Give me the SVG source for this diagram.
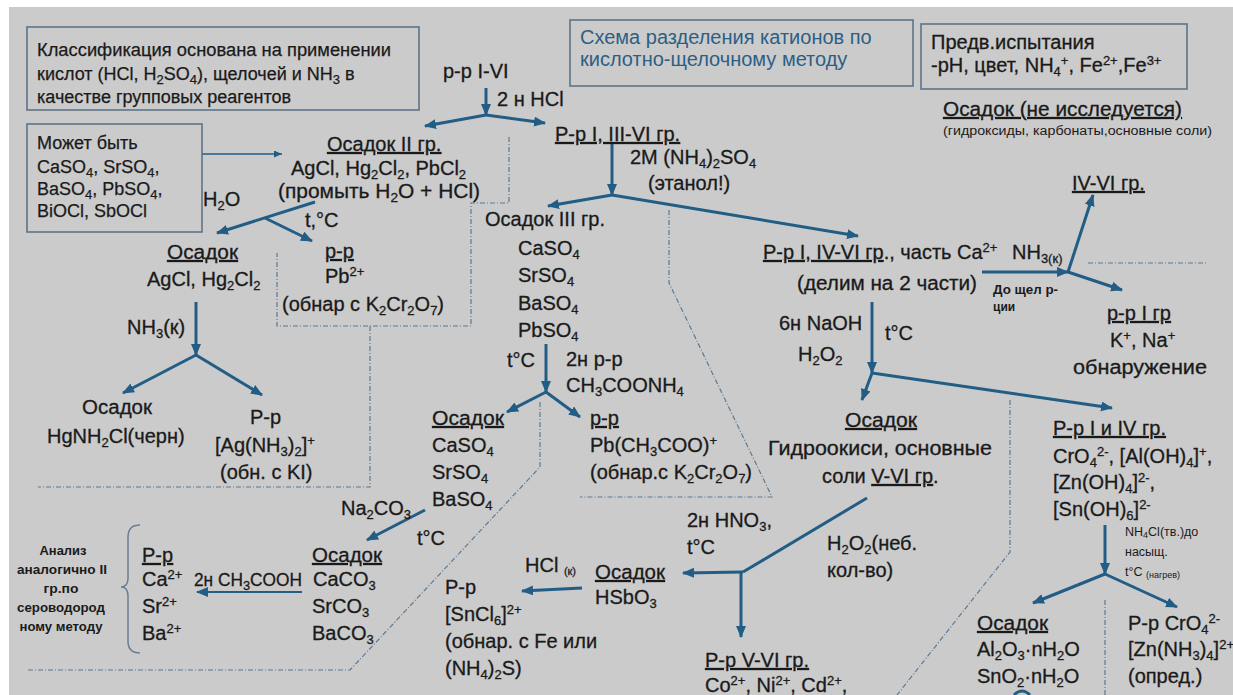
<svg xmlns="http://www.w3.org/2000/svg" width="1233" height="695" viewBox="0 0 1233 695">
<defs>
<style>
text{font-family:"Liberation Sans",Arial,sans-serif;fill:#1a1a1a}
.t{font-size:20px;stroke:#1a1a1a;stroke-width:0.3}
.bx{font-size:18px;stroke:#1a1a1a;stroke-width:0.25}
.hd{font-size:20px;stroke:#1a1a1a;stroke-width:0.3}
.ttl{font-size:20px;fill:#2c5f86}
.sm{font-size:12.5px}
.smb{font-size:12px;font-weight:bold}
.u{text-decoration:underline}
.sb{font-size:13px;baseline-shift:-4px}
.sp{font-size:13px;baseline-shift:7px}
.box{fill:none;stroke:#5e7488;stroke-width:1.6}
.ar{fill:none;stroke:#225d86;stroke-width:3;marker-end:url(#ah)}
.ln{fill:none;stroke:#225d86;stroke-width:3}
.thin{fill:none;stroke:#225d86;stroke-width:1.4;marker-end:url(#ahs)}
.dd{fill:none;stroke:#5d7a94;stroke-width:1.2;stroke-dasharray:5 2 1 2}
</style>
<marker id="ah" markerUnits="userSpaceOnUse" markerWidth="14" markerHeight="12" refX="11" refY="5" orient="auto"><path d="M0,0 L12,5 L0,10 z" fill="#225d86"/></marker>
<marker id="ahs" markerUnits="userSpaceOnUse" markerWidth="10" markerHeight="8" refX="8" refY="3.5" orient="auto"><path d="M0,0 L8,3.5 L0,7 z" fill="#225d86"/></marker>
</defs>
<rect x="9" y="7" width="1224" height="688" fill="#cbcbcb"/>

<g id="connectors">
<path class="dd" d="M509 137 V203 H471 V326 H277 V253"/>
<path class="dd" d="M370 326 V487 H38"/>
<path class="dd" d="M669 210 V283 L772 497 H580"/>
<path class="dd" d="M540 402 V467 L350 670 H27"/>
<path class="dd" d="M1088 263 H1208"/>
<path class="dd" d="M1010 400 V552 L897 695"/>
<path class="dd" d="M1105 600 V695"/>

<path class="thin" d="M202 154 H282"/>
<path class="ar" d="M486 88 V115"/>
<path class="ar" d="M486 115 L425 126"/>
<path class="ar" d="M486 115 L545 123"/>
<path class="ar" d="M315 202 L217 233"/>
<path class="ar" d="M265 218 L312 241"/>
<path class="ar" d="M196 302 V355"/>
<path class="ar" d="M196 355 L123 393"/>
<path class="ar" d="M196 355 L262 395"/>
<path class="ar" d="M612 144 V195"/>
<path class="ar" d="M612 195 L548 206"/>
<path class="ar" d="M612 195 L858 236"/>
<path class="ar" d="M546 344 V392"/>
<path class="ar" d="M546 392 L507 412"/>
<path class="ar" d="M546 392 L580 417"/>
<path class="ar" d="M425 510 L367 540"/>
<path class="ar" d="M302 592 H197" style="stroke-width:2.2"/>
<path class="ar" d="M982 272 H1068"/>
<path class="ar" d="M1068 272 L1093 195"/>
<path class="ar" d="M1068 272 L1122 290"/>
<path class="ar" d="M872 302 V373"/>
<path class="ar" d="M872 373 L862 400"/>
<path class="ar" d="M872 373 L1112 408"/>
<path class="ln" d="M867 498 L743 572"/>
<path class="ar" d="M743 572 L683 573"/>
<path class="ar" d="M741 572 V637"/>
<path class="ar" d="M582 588 L522 591"/>
<path class="ar" d="M1105 525 V574"/>
<path class="ar" d="M1105 574 L1033 603"/>
<path class="ar" d="M1105 574 L1177 607"/>
<path class="ln" d="M1014 695 Q1022 687 1030 695"/>
</g>

<g id="n-classif">
<rect class="box" x="27" y="27" width="392" height="83"/>
<text class="bx" x="37" y="56" textLength="354" lengthAdjust="spacingAndGlyphs">Классификация  основана на применении</text>
<text class="bx" x="37" y="80">кислот (HCl, H<tspan class="sb">2</tspan>SO<tspan class="sb">4</tspan>), щелочей и NH<tspan class="sb">3</tspan> в</text>
<text class="bx" x="37" y="103">качестве групповых реагентов</text>
</g>

<g id="n-title">
<rect class="box" x="570" y="20" width="343" height="66"/>
<text class="ttl" x="580" y="44">Схема разделения катионов по</text>
<text class="ttl" x="580" y="66">кислотно-щелочному методу</text>
</g>

<g id="n-predv">
<rect class="box" x="921" y="24" width="266" height="65"/>
<text class="hd" x="931" y="49">Предв.испытания</text>
<text class="hd" x="931" y="72">-pH, цвет, NH<tspan class="sb">4</tspan><tspan class="sp">+</tspan>, Fe<tspan class="sp">2+</tspan>,Fe<tspan class="sp">3+</tspan></text>
</g>

<g id="n-nonres">
<text class="hd u" x="943" y="116" textLength="239" lengthAdjust="spacingAndGlyphs">Осадок (не исследуется)</text>
<text class="sm" x="943" y="135" textLength="269" lengthAdjust="spacingAndGlyphs">(гидроксиды, карбонаты,основные соли)</text>
</g>

<g id="n-ivvi">
<text class="t u" x="1072" y="190">IV-VI гр.</text>
</g>

<g id="n-start">
<text class="t" x="443" y="78">р-р I-VI</text>
<text class="t" x="497" y="106">2 н HCl</text>
</g>

<g id="n-may">
<rect class="box" x="27" y="124" width="175" height="108"/>
<text class="bx" x="37" y="149">Может быть</text>
<text class="bx" x="37" y="173">CaSO<tspan class="sb">4</tspan>, SrSO<tspan class="sb">4</tspan>,</text>
<text class="bx" x="37" y="195">BaSO<tspan class="sb">4</tspan>, PbSO<tspan class="sb">4</tspan>,</text>
<text class="bx" x="37" y="217">BiOCl, SbOCl</text>
</g>

<g id="n-osII">
<text class="t u" x="327" y="151">Осадок II гр.</text>
<text class="t" x="291" y="175">AgCl, Hg<tspan class="sb">2</tspan>Cl<tspan class="sb">2</tspan>, PbCl<tspan class="sb">2</tspan></text>
<text class="t" x="278" y="198" textLength="202" lengthAdjust="spacingAndGlyphs">(промыть H<tspan class="sb">2</tspan>O + HCl)</text>
<text class="t" x="203" y="206">H<tspan class="sb">2</tspan>O</text>
<text class="t" x="305" y="227">t,°C</text>
</g>

<g id="n-agcl">
<text class="t u" x="167" y="259" textLength="71" lengthAdjust="spacingAndGlyphs">Осадок</text>
<text class="t" x="147" y="286">AgCl, Hg<tspan class="sb">2</tspan>Cl<tspan class="sb">2</tspan></text>
<text class="t" x="127" y="334">NH<tspan class="sb">3</tspan>(к)</text>
</g>

<g id="n-pb">
<text class="t u" x="325" y="258">р-р</text>
<text class="t" x="325" y="283">Pb<tspan class="sp">2+</tspan></text>
<text class="t" x="282" y="311">(обнар с K<tspan class="sb">2</tspan>Cr<tspan class="sb">2</tspan>O<tspan class="sb">7</tspan>)</text>
</g>

<g id="n-hg">
<text class="t" x="82" y="414" textLength="70" lengthAdjust="spacingAndGlyphs">Осадок</text>
<text class="t" x="47" y="443">HgNH<tspan class="sb">2</tspan>Cl(черн)</text>
</g>

<g id="n-ag">
<text class="t" x="250" y="424">Р-р</text>
<text class="t" x="215" y="452">[Ag(NH<tspan class="sb">3</tspan>)<tspan class="sb">2</tspan>]<tspan class="sp">+</tspan></text>
<text class="t" x="220" y="479">(обн. с KI)</text>
</g>

<g id="n-rr1">
<text class="t u" x="555" y="141">Р-р I, III-VI гр.</text>
<text class="t" x="630" y="164">2M (NH<tspan class="sb">4</tspan>)<tspan class="sb">2</tspan>SO<tspan class="sb">4</tspan></text>
<text class="t" x="648" y="190">(этанол!)</text>
</g>

<g id="n-osIII">
<text class="t" x="485" y="226">Осадок III гр.</text>
<text class="t" x="518" y="255">CaSO<tspan class="sb">4</tspan></text>
<text class="t" x="518" y="282">SrSO<tspan class="sb">4</tspan></text>
<text class="t" x="518" y="310">BaSO<tspan class="sb">4</tspan></text>
<text class="t" x="518" y="337">PbSO<tspan class="sb">4</tspan></text>
<text class="t" x="507" y="367">t°C</text>
<text class="t" x="566" y="366">2н р-р</text>
<text class="t" x="566" y="392">CH<tspan class="sb">3</tspan>COONH<tspan class="sb">4</tspan></text>
</g>

<g id="n-sulf">
<text class="t u" x="432" y="425" textLength="72" lengthAdjust="spacingAndGlyphs">Осадок</text>
<text class="t" x="432" y="452">CaSO<tspan class="sb">4</tspan></text>
<text class="t" x="432" y="479">SrSO<tspan class="sb">4</tspan></text>
<text class="t" x="432" y="506">BaSO<tspan class="sb">4</tspan></text>
</g>

<g id="n-pbac">
<text class="t u" x="590" y="425">р-р</text>
<text class="t" x="590" y="452">Pb(CH<tspan class="sb">3</tspan>COO)<tspan class="sp">+</tspan></text>
<text class="t" x="590" y="479">(обнар.с K<tspan class="sb">2</tspan>Cr<tspan class="sb">2</tspan>O<tspan class="sb">7</tspan>)</text>
</g>

<g id="n-carb">
<text class="t" x="341" y="515">Na<tspan class="sb">2</tspan>CO<tspan class="sb">3</tspan></text>
<text class="t" x="417" y="545">t°C</text>
<text class="t u" x="312" y="562" textLength="70" lengthAdjust="spacingAndGlyphs">Осадок</text>
<text class="t" x="313" y="586">CaCO<tspan class="sb">3</tspan></text>
<text class="t" x="312" y="613">SrCO<tspan class="sb">3</tspan></text>
<text class="t" x="312" y="640">BaCO<tspan class="sb">3</tspan></text>
</g>

<g id="n-ions">
<text class="t u" x="142" y="562">Р-р</text>
<text class="t" x="142" y="586">Ca<tspan class="sp">2+</tspan></text>
<text class="t" x="194" y="586" style="font-size:17.5px" textLength="108" lengthAdjust="spacingAndGlyphs">2н CH<tspan class="sb">3</tspan>COOH</text>
<text class="t" x="142" y="613">Sr<tspan class="sp">2+</tspan></text>
<text class="t" x="142" y="640">Ba<tspan class="sp">2+</tspan></text>
<path d="M140 525 Q128 525 128 537 V578 Q128 587 121 587 Q128 587 128 596 V641 Q128 653 140 653" fill="none" stroke="#6a7f92" stroke-width="1.5"/>
</g>

<g id="n-note">
<text class="smb" x="63" y="555" text-anchor="middle" textLength="47" lengthAdjust="spacingAndGlyphs">Анализ</text>
<text class="smb" x="62" y="574" text-anchor="middle" textLength="90" lengthAdjust="spacingAndGlyphs">аналогично II</text>
<text class="smb" x="61" y="593" text-anchor="middle" textLength="35" lengthAdjust="spacingAndGlyphs">гр.по</text>
<text class="smb" x="61" y="612" text-anchor="middle" textLength="88" lengthAdjust="spacingAndGlyphs">сероводород</text>
<text class="smb" x="61" y="631" text-anchor="middle" textLength="83" lengthAdjust="spacingAndGlyphs">ному методу</text>
</g>

<g id="n-rrIV">
<text class="t" x="763" y="259"><tspan class="u">Р-р I, IV-VI гр</tspan>., часть Ca<tspan class="sp">2+</tspan></text>
<text class="t" x="1012" y="259">NH<tspan class="sb">3(к)</tspan></text>
<text class="t" x="797" y="290" textLength="180" lengthAdjust="spacingAndGlyphs">(делим на 2 части)</text>
<text class="smb" x="993" y="294" textLength="65" lengthAdjust="spacingAndGlyphs">До щел р-</text>
<text class="smb" x="993" y="311">ции</text>
</g>

<g id="n-rrI">
<text class="t u" x="1107" y="320">р-р I гр</text>
<text class="t" x="1110" y="347">K<tspan class="sp">+</tspan>, Na<tspan class="sp">+</tspan></text>
<text class="t" x="1073" y="374" textLength="134" lengthAdjust="spacingAndGlyphs">обнаружение</text>
</g>

<g id="n-naoh">
<text class="t" x="779" y="330">6н NaOH</text>
<text class="t" x="798" y="361">H<tspan class="sb">2</tspan>O<tspan class="sb">2</tspan></text>
<text class="t" x="885" y="340">t°C</text>
</g>

<g id="n-hydr">
<text class="t u" x="845" y="427" textLength="72" lengthAdjust="spacingAndGlyphs">Осадок</text>
<text class="t" x="768" y="455" textLength="224" lengthAdjust="spacingAndGlyphs">Гидроокиси, основные</text>
<text class="t" x="822" y="483">соли <tspan class="u">V-VI гр</tspan>.</text>
</g>

<g id="n-rrIIV">
<text class="t u" x="1053" y="435">Р-р I и IV гр.</text>
<text class="t" x="1053" y="463">CrO<tspan class="sb">4</tspan><tspan class="sp">2-</tspan>, [Al(OH)<tspan class="sb">4</tspan>]<tspan class="sp">+</tspan>,</text>
<text class="t" x="1053" y="489">[Zn(OH)<tspan class="sb">4</tspan>]<tspan class="sp">2-</tspan>,</text>
<text class="t" x="1053" y="516">[Sn(OH)<tspan class="sb">6</tspan>]<tspan class="sp">2-</tspan></text>
<text class="sm" x="1125" y="536">NH<tspan style="font-size:9px;baseline-shift:-2px">4</tspan>Cl(тв.)до</text>
<text class="sm" x="1125" y="556">насыщ.</text>
<text class="sm" x="1125" y="576">t°C <tspan style="font-size:9px;baseline-shift:-2px">(нагрев)</tspan></text>
</g>

<g id="n-al">
<text class="t u" x="977" y="630" textLength="71" lengthAdjust="spacingAndGlyphs">Осадок</text>
<text class="t" x="977" y="656">Al<tspan class="sb">2</tspan>O<tspan class="sb">3</tspan>·nH<tspan class="sb">2</tspan>O</text>
<text class="t" x="977" y="683">SnO<tspan class="sb">2</tspan>·nH<tspan class="sb">2</tspan>O</text>
</g>

<g id="n-cr">
<text class="t" x="1128" y="630">Р-р CrO<tspan class="sb">4</tspan><tspan class="sp">2-</tspan></text>
<text class="t" x="1128" y="656">[Zn(NH<tspan class="sb">3</tspan>)<tspan class="sb">4</tspan>]<tspan class="sp">2+</tspan></text>
<text class="t" x="1128" y="683">(опред.)</text>
</g>

<g id="n-h2o2">
<text class="t" x="827" y="550">H<tspan class="sb">2</tspan>O<tspan class="sb">2</tspan>(неб.</text>
<text class="t" x="827" y="577">кол-во)</text>
</g>

<g id="n-hno3">
<text class="t" x="687" y="527">2н HNO<tspan class="sb">3</tspan>,</text>
<text class="t" x="687" y="554">t°C</text>
</g>

<g id="n-hsbo">
<text class="t u" x="595" y="579" textLength="70" lengthAdjust="spacingAndGlyphs">Осадок</text>
<text class="t" x="595" y="604">HSbO<tspan class="sb">3</tspan></text>
<text class="t" x="525" y="572">HCl <tspan style="font-size:11px;baseline-shift:-3px">(к)</tspan></text>
</g>

<g id="n-sn">
<text class="t" x="445" y="594">Р-р</text>
<text class="t" x="445" y="621">[SnCl<tspan class="sb">6</tspan>]<tspan class="sp">2+</tspan></text>
<text class="t" x="445" y="648">(обнар. с Fe или</text>
<text class="t" x="445" y="675">(NH<tspan class="sb">4</tspan>)<tspan class="sb">2</tspan>S)</text>
</g>

<g id="n-vvi">
<text class="t u" x="705" y="667">Р-р V-VI гр.</text>
<text class="t" x="705" y="692">Co<tspan class="sp">2+</tspan>, Ni<tspan class="sp">2+</tspan>, Cd<tspan class="sp">2+</tspan>,</text>
</g>
</svg>
